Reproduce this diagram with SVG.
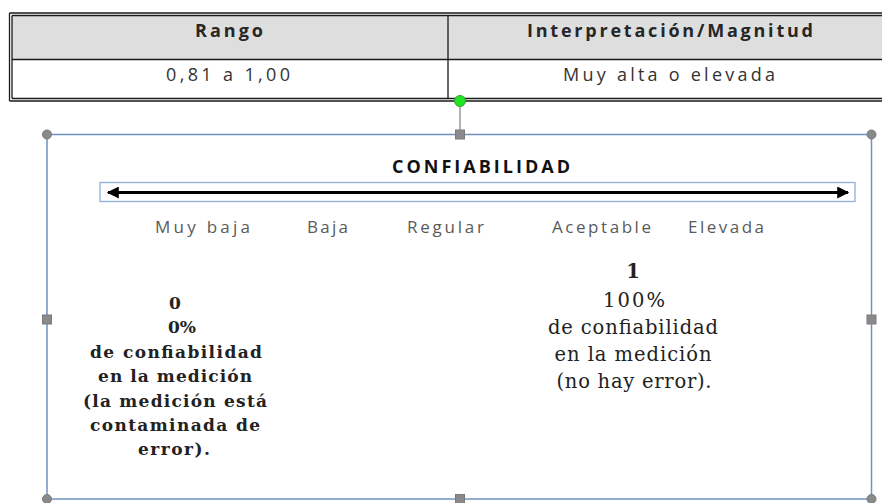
<svg xmlns="http://www.w3.org/2000/svg" width="882" height="503" viewBox="0 0 882 503">
<style>
.tl{stroke:#1a1a1a;stroke-width:1.3;fill:none}
.th{font-family:"Open Sans","DejaVu Sans",sans-serif;font-weight:bold;font-size:18px;fill:#262626;text-anchor:middle}
.td{font-family:"Open Sans","DejaVu Sans",sans-serif;font-size:18px;fill:#333;text-anchor:middle}
.sel{stroke:#6f93bf;stroke-width:1.5;fill:none}
.hs{fill:#8a8a8a;stroke:#7a7a7a;stroke-width:1}
.lab{font-family:"Open Sans","DejaVu Sans",sans-serif;font-size:17px;fill:#5a5a5a;text-anchor:start}
.lt{font-family:"DejaVu Serif","Liberation Serif",serif;font-size:17px;font-weight:bold;fill:#222;text-anchor:middle}
.rt{font-family:"DejaVu Serif","Liberation Serif",serif;font-size:19.5px;fill:#222;text-anchor:middle}
</style>
<defs>
<marker id="ah" viewBox="0 0 10 10" refX="9" refY="5" markerWidth="6.5" markerHeight="4" orient="auto-start-reverse" markerUnits="strokeWidth">
<path d="M0,0 L10,5 L0,10 z" fill="#000"/>
</marker>
</defs>
<g id="table">
<rect x="12" y="15.5" width="880" height="44" fill="#dedede"/>
<path class="tl" d="M9.5,13 H890 M12,15.5 H890 M9.5,13 V101 M12,15.5 V98.5 M12,59.5 H890 M12,98.5 H890 M9.5,101 H890 M448,15.5 V98.5"/>
<text class="th" x="229" y="37" textLength="68" lengthAdjust="spacing">Rango</text>
<text class="th" x="670" y="37" textLength="286" lengthAdjust="spacing">Interpretación/Magnitud</text>
<text class="td" x="228" y="81" textLength="124" lengthAdjust="spacing">0,81 a 1,00</text>
<text class="td" x="669" y="81" textLength="212" lengthAdjust="spacing">Muy alta o elevada</text>
</g>
<g id="selection">
<line x1="460" y1="101" x2="460" y2="134" stroke="#999" stroke-width="1.5"/>
<rect class="sel" x="47" y="134.5" width="824.5" height="364.5"/>
<circle cx="460" cy="101" r="5.5" fill="#1fe61f" stroke="#3a9a3a" stroke-width="1"/>
<circle class="hs" cx="47" cy="134.5" r="4.5"/>
<circle class="hs" cx="871.5" cy="134.5" r="4.5"/>
<circle class="hs" cx="47" cy="499" r="4.5"/>
<circle class="hs" cx="871.5" cy="499" r="4.5"/>
<rect class="hs" x="455.5" y="130" width="9" height="9"/>
<rect class="hs" x="455.5" y="494.5" width="9" height="9"/>
<rect class="hs" x="42.5" y="315" width="9" height="9"/>
<rect class="hs" x="867" y="315" width="9" height="9"/>
</g>
<g id="title">
<text x="481" y="173" font-family="'Open Sans','DejaVu Sans',sans-serif" font-weight="bold" font-size="18px" fill="#111" text-anchor="middle" textLength="178" lengthAdjust="spacing">CONFIABILIDAD</text>
</g>
<g id="axis">
<rect x="100" y="182.5" width="755" height="19" fill="#fff" stroke="#8fb0dd" stroke-width="1.3"/>
<line x1="108" y1="192.5" x2="848" y2="192.5" stroke="#000" stroke-width="3" marker-start="url(#ah)" marker-end="url(#ah)"/>
</g>
<g id="labels">
<text class="lab" x="155" y="233" textLength="95" lengthAdjust="spacing">Muy baja</text>
<text class="lab" x="307" y="233" textLength="41" lengthAdjust="spacing">Baja</text>
<text class="lab" x="407" y="233" textLength="77" lengthAdjust="spacing">Regular</text>
<text class="lab" x="552" y="233" textLength="99" lengthAdjust="spacing">Aceptable</text>
<text class="lab" x="688" y="233" textLength="76" lengthAdjust="spacing">Elevada</text>
</g>
<g id="left-note">
<text class="lt" x="175" y="309">0</text>
<text class="lt" x="182" y="333">0%</text>
<text class="lt" x="176" y="358" textLength="172" lengthAdjust="spacing">de confiabilidad</text>
<text class="lt" x="175" y="382" textLength="154" lengthAdjust="spacing">en la medición</text>
<text class="lt" x="175" y="407" textLength="184" lengthAdjust="spacing">(la medición está</text>
<text class="lt" x="175" y="431" textLength="170" lengthAdjust="spacing">contaminada de</text>
<text class="lt" x="174" y="455" textLength="72" lengthAdjust="spacing">error).</text>
</g>
<g id="right-note">
<text class="rt" x="633" y="278" font-weight="bold">1</text>
<text class="rt" x="634" y="307" textLength="62" lengthAdjust="spacing">100%</text>
<text class="rt" x="633" y="334" textLength="170" lengthAdjust="spacing">de confiabilidad</text>
<text class="rt" x="633" y="361" textLength="157" lengthAdjust="spacing">en la medición</text>
<text class="rt" x="634" y="388" textLength="155" lengthAdjust="spacing">(no hay error).</text>
</g>
</svg>
